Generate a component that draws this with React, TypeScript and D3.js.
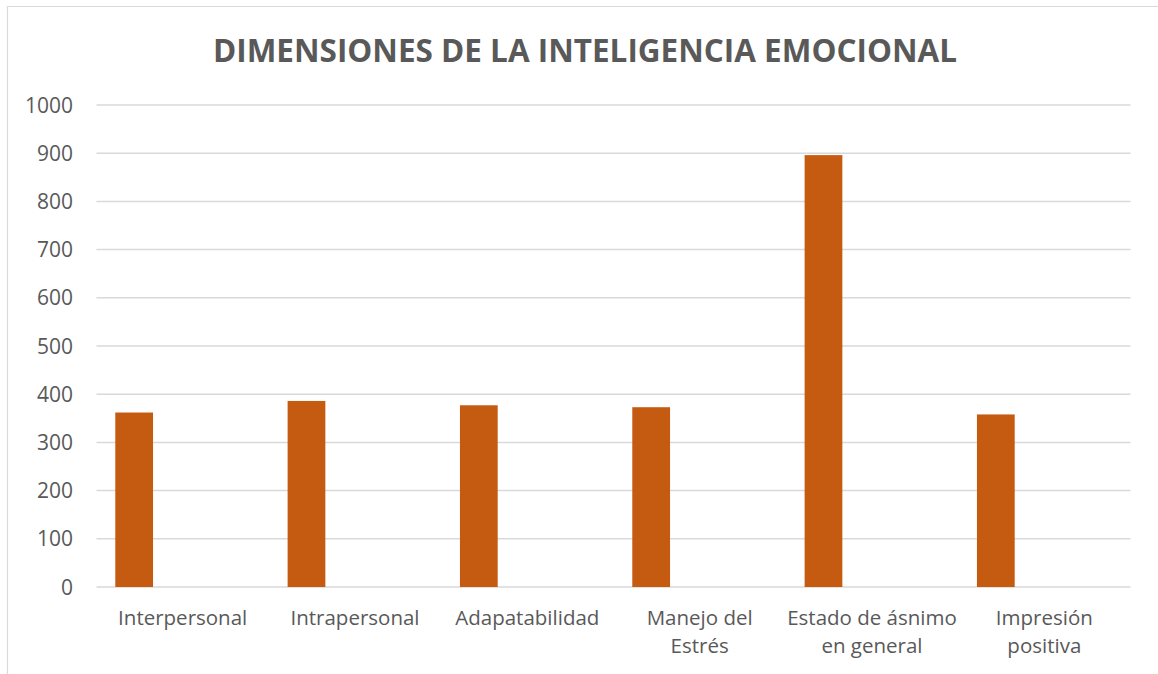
import React, { useEffect, useRef } from 'react';
import * as d3 from 'd3';

const categories = [
  'Interpersonal',
  'Intrapersonal',
  'Adapatabilidad',
  'Manejo del Estrés',
  'Estado de ásnimo en general',
  'Impresión positiva',
];
// label lines as they wrap in the original
const labelLines = [
  ['Interpersonal'],
  ['Intrapersonal'],
  ['Adapatabilidad'],
  ['Manejo del', 'Estrés'],
  ['Estado de ásnimo', 'en general'],
  ['Impresión', 'positiva'],
];
const values = [362, 386, 377, 373, 896, 358];
const yTicks = [0, 100, 200, 300, 400, 500, 600, 700, 800, 900, 1000];
const title = 'DIMENSIONES DE LA INTELIGENCIA EMOCIONAL';

const W = 1158;
const H = 674;

const App = () => {
  const ref = useRef<SVGSVGElement>(null);

  useEffect(() => {
    const svg = d3.select(ref.current);
    svg.selectAll('*').remove();

    const margin = { top: 105, right: 27.5, bottom: 87, left: 96.5 };
    const font = "'Open Sans', sans-serif";
    const textColor = '#595959';

    const x = d3.scaleBand().domain(categories).range([margin.left, W - margin.right]);
    const y = d3.scaleLinear().domain([0, 1000]).range([H - margin.bottom, margin.top]);

    // chart frame (left and top edges visible)
    svg.append('path')
      .attr('d', `M7.5,${H} V6.5 H${W}`)
      .attr('fill', 'none')
      .attr('stroke', '#d9d9d9')
      .attr('stroke-width', 1.2);

    svg.append('text')
      .attr('x', 585)
      .attr('y', 62)
      .attr('text-anchor', 'middle')
      .attr('font-family', font)
      .attr('font-weight', 700)
      .attr('font-size', 33)
      .attr('textLength', 744)
      .attr('lengthAdjust', 'spacingAndGlyphs')
      .attr('fill', textColor)
      .text(title);

    // gridlines
    svg.append('g')
      .selectAll('line')
      .data(yTicks)
      .join('line')
      .attr('x1', margin.left)
      .attr('x2', W - margin.right)
      .attr('y1', d => y(d))
      .attr('y2', d => y(d))
      .attr('stroke', '#d9d9d9')
      .attr('stroke-width', 1.5);

    svg.append('g')
      .selectAll('text')
      .data(yTicks)
      .join('text')
      .attr('x', 73)
      .attr('y', d => y(d))
      .attr('dy', '0.36em')
      .attr('text-anchor', 'end')
      .attr('font-family', font)
      .attr('font-size', 21)
      .attr('fill', textColor)
      .text(d => d);

    // bars sit in the first slot of each category
    const bw = x.bandwidth();
    svg.append('g')
      .selectAll('rect')
      .data(values)
      .join('rect')
      .attr('x', (d, i) => x(categories[i])! + bw * 0.109)
      .attr('width', bw * 0.219)
      .attr('y', d => y(d))
      .attr('height', d => y(0) - y(d))
      .attr('fill', '#c55a11');

    const labels = svg.append('g')
      .selectAll('text')
      .data(labelLines)
      .join('text')
      .attr('x', (d, i) => x(categories[i])! + bw / 2)
      .attr('y', 624.5)
      .attr('text-anchor', 'middle')
      .attr('font-family', font)
      .attr('font-size', 20.5)
      .attr('fill', textColor);

    labels.selectAll('tspan')
      .data(d => d)
      .join('tspan')
      .attr('x', function () {
        return (this.parentNode as SVGTextElement).getAttribute('x');
      })
      .attr('dy', (d, i) => (i === 0 ? 0 : 28.5))
      .text(d => d);
  }, []);

  return (
    <div style={{ position: 'fixed', left: 0, top: 0, width: W, height: H, background: '#fff' }}>
      <svg ref={ref} width={W} height={H} />
    </div>
  );
};

export default App;
